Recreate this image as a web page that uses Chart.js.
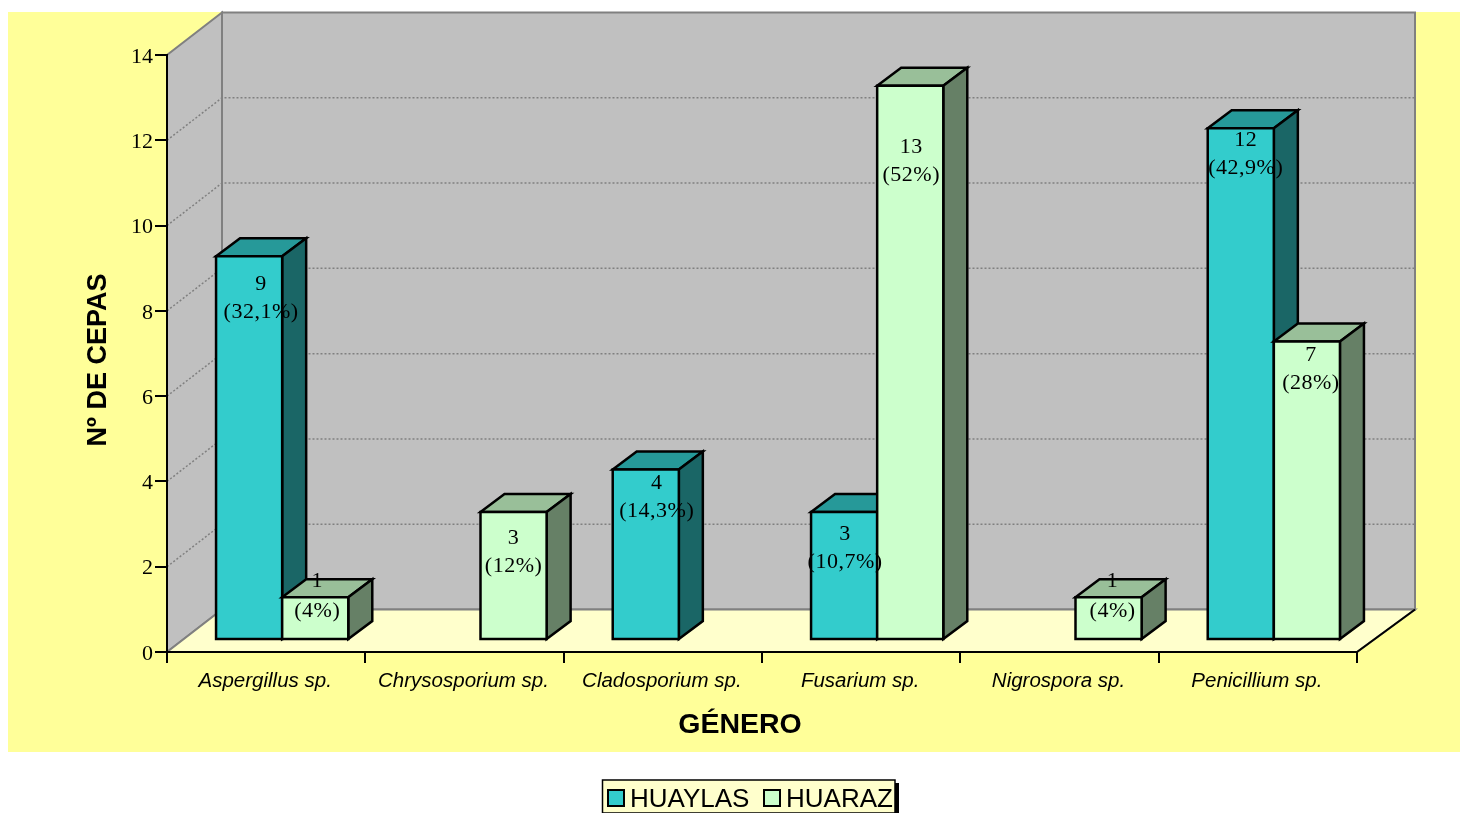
<!DOCTYPE html>
<html lang="es">

<head>
    <meta charset="UTF-8">
    <title>Cepas por género</title>
    <style>
        body {
            margin: 0;
            background: #fff;
        }

        canvas {
            display: block;
        }
    </style>
    <script src="https://cdn.jsdelivr.net/npm/chart.js"></script>
</head>

<body>
    <canvas id="cepasChart" width="1460" height="813"></canvas>
    <script>
        const generos = ['Aspergillus sp.', 'Chrysosporium sp.', 'Cladosporium sp.', 'Fusarium sp.', 'Nigrospora sp.', 'Penicillium sp.'];
        const huaylas = [9, null, 4, 3, null, 12];
        const huaraz = [1, 3, null, 13, 1, 7];
        const huaylasPct = ['32,1%', null, '14,3%', '10,7%', null, '42,9%'];
        const huarazPct = ['4%', '12%', null, '52%', '4%', '28%'];

        // where the hand-placed labels sit relative to the top of each bar
        const huaylasLabelDx = [12, 0, 11, 1, 0, 5];
        const huaylasLabelDy = [28, 0, 14, 22, 0, 12];
        const huarazLabelDx = [2, 0, 0, 1, 4, 4];
        const huarazLabelDy = [-16, 26, 0, 62, -16, 14];

        // 3D look
        const FRONT_DX = 16, FRONT_DY = -12;   // bars stand this far behind the axis
        const BAR_DX = 24, BAR_DY = -18;       // depth of a bar
        const WALL_DY = -42.5;

        const sideColors = ['#1a6666', '#668066'];
        const topColors = ['#269999', '#99bf99'];

        function poly(ctx, pts, fill, stroke, width) {
            ctx.beginPath();
            pts.forEach((p, i) => i ? ctx.lineTo(p[0], p[1]) : ctx.moveTo(p[0], p[1]));
            ctx.closePath();
            if (fill) {
                ctx.fillStyle = fill;
                ctx.fill();
            }
            if (stroke) {
                ctx.strokeStyle = stroke;
                ctx.lineWidth = width;
                ctx.stroke();
            }
        }

        const walls = {
            id: 'walls',
            beforeDraw(chart) {
                const ctx = chart.ctx;
                const { left, right, top, bottom } = chart.chartArea;
                const backL = left + 55, backR = right + 58;
                const backTop = top + WALL_DY, backBottom = bottom + WALL_DY;

                ctx.save();
                ctx.fillStyle = '#ffff99';
                ctx.fillRect(8, 12, 1452, 740);

                poly(ctx, [[left, bottom], [backL, backBottom], [backL, backTop], [left, top]], '#c0c0c0', '#808080', 2);
                poly(ctx, [[backL, backTop], [backR, backTop], [backR, backBottom], [backL, backBottom]], '#c0c0c0', '#808080', 2);
                poly(ctx, [[left, bottom], [right, bottom], [backR, backBottom], [backL, backBottom]], '#ffffcc', '#808080', 2);

                ctx.strokeStyle = '#000';
                ctx.lineWidth = 2;
                ctx.beginPath();
                ctx.moveTo(right, bottom);
                ctx.lineTo(backR, backBottom);
                ctx.stroke();

                // dotted gridlines run up the side wall and along the back
                const y = chart.scales.y;
                ctx.strokeStyle = '#808080';
                ctx.lineWidth = 1.5;
                ctx.setLineDash([2, 2]);
                y.ticks.forEach((t, i) => {
                    if (t.value === 0 || t.value === 14) return;
                    const py = y.getPixelForTick(i);
                    ctx.beginPath();
                    ctx.moveTo(left, py);
                    ctx.lineTo(backL, py + WALL_DY);
                    ctx.lineTo(backR, py + WALL_DY);
                    ctx.stroke();
                });
                ctx.restore();
            }
        };

        // HUAYLAS has to go down first so HUARAZ covers its side face
        const bars3d = {
            id: 'bars3d',
            beforeDatasetsDraw(chart) {
                const ctx = chart.ctx;
                ctx.save();
                ctx.translate(FRONT_DX, FRONT_DY);
                chart.data.datasets.forEach((ds, d) => {
                    const meta = chart.getDatasetMeta(d);
                    meta.data.forEach((bar, i) => {
                        if (ds.data[i] == null) return;
                        const x0 = bar.x - bar.width / 2, x1 = bar.x + bar.width / 2;
                        poly(ctx, [[x0, bar.y], [x1, bar.y], [x1 + BAR_DX, bar.y + BAR_DY], [x0 + BAR_DX, bar.y + BAR_DY]], topColors[d], '#000', 2.5);
                        poly(ctx, [[x1, bar.y], [x1 + BAR_DX, bar.y + BAR_DY], [x1 + BAR_DX, bar.base + BAR_DY], [x1, bar.base]], sideColors[d], '#000', 2.5);
                    });
                    meta.controller.draw();
                    // outline centred on the bar edge, the library's border sits inside it
                    meta.data.forEach((bar, i) => {
                        if (ds.data[i] == null) return;
                        const x0 = bar.x - bar.width / 2, x1 = bar.x + bar.width / 2;
                        poly(ctx, [[x0, bar.y], [x1, bar.y], [x1, bar.base], [x0, bar.base]], null, '#000', 2.5);
                    });
                });
                ctx.restore();
                return false;
            }
        };

        const textos = {
            id: 'textos',
            afterDraw(chart) {
                const ctx = chart.ctx;
                ctx.save();
                ctx.fillStyle = '#000';
                ctx.textAlign = 'center';
                ctx.textBaseline = 'middle';

                // value + percentage labels
                const labelSets = [
                    [huaylas, huaylasPct, huaylasLabelDx, huaylasLabelDy],
                    [huaraz, huarazPct, huarazLabelDx, huarazLabelDy]
                ];
                ctx.font = '22px "Liberation Serif"';
                ctx.letterSpacing = '0.5px';
                labelSets.forEach((set, d) => {
                    const meta = chart.getDatasetMeta(d);
                    set[0].forEach((v, i) => {
                        if (v == null) return;
                        const bar = meta.data[i];
                        const x = bar.x + FRONT_DX + set[2][i];
                        const y = bar.y + FRONT_DY + set[3][i];
                        ctx.fillText(String(v), x, y);
                        ctx.fillText('(' + set[1][i] + ')', x, y + (v === 1 ? 30 : 28));
                    });
                });
                ctx.letterSpacing = '0px';

                // axis titles
                ctx.font = 'bold 28.5px "Liberation Sans"';
                ctx.fillText('GÉNERO', 740, 725);
                ctx.save();
                ctx.translate(99, 360);
                ctx.rotate(-Math.PI / 2);
                ctx.font = 'bold 27px "Liberation Sans"';
                ctx.fillText('Nº DE CEPAS', 0, 0);
                ctx.restore();

                // legend
                ctx.fillStyle = '#000';
                ctx.fillRect(606, 783, 293, 34);
                poly(ctx, [[602.5, 780], [895, 780], [895, 813], [602.5, 813]], '#ffffcc', '#000', 1.5);
                ctx.textAlign = 'left';
                ctx.font = '26px "Liberation Sans"';
                const legendX = [608, 764];
                chart.data.datasets.forEach((ds, i) => {
                    poly(ctx, [[legendX[i], 790], [legendX[i] + 16, 790], [legendX[i] + 16, 806], [legendX[i], 806]], ds.backgroundColor, '#000', 2);
                    ctx.fillStyle = '#000';
                    ctx.fillText(ds.label, legendX[i] + 22, 800);
                });
                ctx.restore();
            }
        };

        new Chart(document.getElementById('cepasChart'), {
            type: 'bar',
            data: {
                labels: generos,
                datasets: [
                    { label: 'HUAYLAS', data: huaylas, backgroundColor: '#33cccc' },
                    { label: 'HUARAZ', data: huaraz, backgroundColor: '#ccffcc' }
                ]
            },
            options: {
                responsive: false,
                animation: false,
                layout: { padding: { left: 0, right: 103, top: 55, bottom: 0 } },
                datasets: {
                    bar: {
                        categoryPercentage: 2 / 3,
                        barPercentage: 1,
                        borderWidth: 0
                    }
                },
                plugins: {
                    legend: { display: false },
                    tooltip: { enabled: false }
                },
                scales: {
                    x: {
                        afterFit(scale) { scale.height = 161; },
                        border: { color: '#000', width: 2 },
                        grid: { color: '#000', lineWidth: 2, drawOnChartArea: false, tickLength: 11 },
                        ticks: {
                            color: '#000',
                            padding: 6,
                            labelOffset: -1,
                            maxRotation: 0,
                            autoSkip: false,
                            font: { family: '"Liberation Sans"', size: 20.5, style: 'italic' }
                        }
                    },
                    y: {
                        min: 0,
                        max: 14,
                        afterFit(scale) { scale.width = 167; },
                        border: { color: '#000', width: 2 },
                        grid: { color: '#000', lineWidth: 2, drawOnChartArea: false, tickLength: 12 },
                        ticks: {
                            stepSize: 2,
                            color: '#000',
                            padding: 2,
                            labelOffset: 2,
                            font: { family: '"Liberation Serif"', size: 22 }
                        }
                    }
                }
            },
            plugins: [walls, bars3d, textos]
        });
    </script>
</body>

</html>
